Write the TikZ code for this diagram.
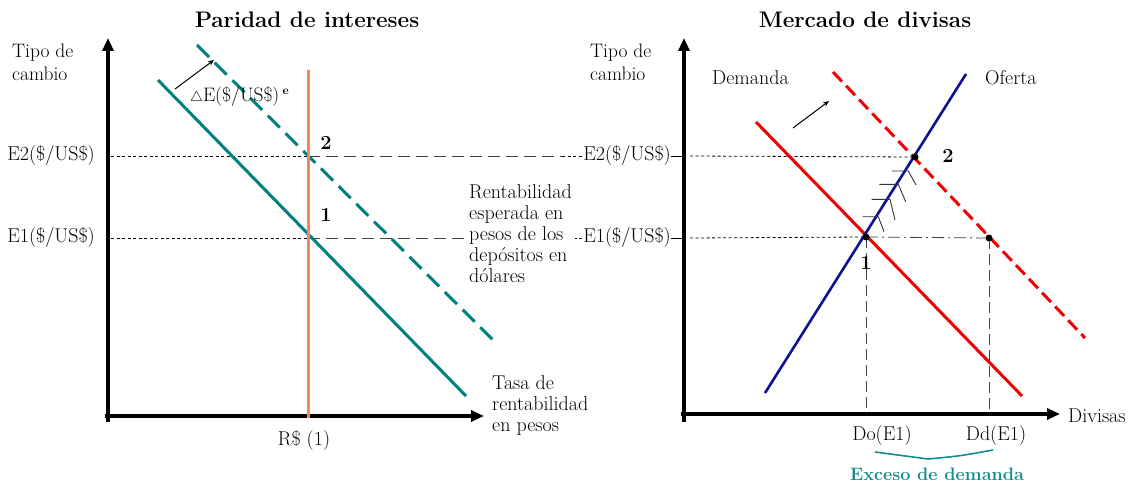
\documentclass[tikz,border=0pt]{standalone}
\usepackage{fontspec}
\usetikzlibrary{arrows.meta}
\definecolor{tealline}{RGB}{0,128,128}
\definecolor{orngline}{RGB}{244,135,82}
\definecolor{redline}{RGB}{240,0,0}
\definecolor{navyline}{RGB}{15,15,150}
\definecolor{tealtxt}{RGB}{20,140,140}
\begin{document}
\begin{tikzpicture}[x=1pt,y=-1pt,
  axisline/.style={line width=3.5pt,-{Triangle[length=13pt,width=11pt]}},
  lbl/.style={font=\fontsize{20}{21}\selectfont,inner sep=0pt,align=left},
  smlbl/.style={font=\fontsize{19.5}{22}\selectfont,inner sep=0pt,align=left},
  ttl/.style={font=\fontsize{22.5}{26}\selectfont\bfseries,inner sep=0pt},
  num/.style={font=\fontsize{20}{22}\selectfont\bfseries,inner sep=0pt},
  finedash/.style={line width=0.8pt,dash pattern=on 3pt off 2.5pt},
  longdash/.style={line width=0.8pt,black!75,dash pattern=on 12pt off 6pt},
  vdash/.style={line width=0.8pt,black!75,dash pattern=on 11pt off 5pt},
  dashdot/.style={line width=0.8pt,black!75,dash pattern=on 12pt off 4pt on 2pt off 4pt},
  shiftarrow/.style={line width=1pt,-{Stealth[length=6pt,width=5pt]}},
  hatch/.style={line width=0.9pt,black!80},
  dot/.style={circle,fill=black,inner sep=0pt,minimum size=7pt}
]
\useasboundingbox (0,0) rectangle (1130,484);

% ---------------- Left panel ----------------
\node[ttl] (t1) at (307,20) {Paridad de intereses};
\coordinate (ly) at (108,38);
\coordinate (lx) at (484,416);
\draw[axisline] (108,422) -- (ly);
\draw[axisline] (105,416) -- (lx);

\node[smlbl,anchor=west] (tc1a) at (12,53) {Tipo de};
\node[smlbl,anchor=west] (tc1b) at (12,74) {cambio};
\node[lbl,anchor=east] (e2l) at (95,156) {E2(\$/US\$)};
\node[lbl,anchor=east] (e1l) at (95,238) {E1(\$/US\$)};

% reference lines
\coordinate (p2) at (308,156);
\coordinate (p1) at (308,238);
\draw[finedash] (111,156) -- (p2);
\draw[longdash] (p2) -- (562,156);
\draw[finedash] (562,156) -- (584,156);
\draw[finedash] (111,238) -- (p1);
\draw[longdash] (p1) -- (468,238);
\draw[finedash] (568,238) -- (584,238);

% curves
\coordinate (sA) at (158,80);
\coordinate (sB) at (466,396);
\coordinate (dA) at (197,45);
\coordinate (dB) at (493,340);
\draw[tealline,line width=3pt] (sA) -- (sB);
\draw[tealline,line width=3pt,dash pattern=on 17pt off 8pt] (dA) -- (dB);
\draw[orngline,line width=3pt] (308,70) -- (308,418);

\coordinate (a1s) at (175,89);
\coordinate (a1e) at (214,60);
\draw[shiftarrow] (a1s) -- (a1e);
\node[inner sep=0pt,anchor=west,font=\fontsize{19.5}{21}\selectfont] (de) at (190,97) {$\scriptstyle\triangle$E(\$/US\$)\,\raisebox{7pt}{\fontsize{12}{12}\selectfont\bfseries e}};

\node[num] (n2l) at (326,143) {2};
\node[num] (n1l) at (326,215) {1};

\node[lbl,anchor=west,fill=white,inner xsep=3pt,inner ysep=0pt] (rent) at (466,234) {Rentabilidad\\esperada en\\pesos de los\\depósitos en\\dólares};
\node[lbl,anchor=west] (tasa) at (492,406) {Tasa de\\rentabilidad\\en pesos};
\node[lbl] (rs) at (304,441) {R\$ (1)};

% ---------------- Right panel ----------------
\node[ttl] (t2) at (865,20) {Mercado de divisas};
\coordinate (ry) at (684,38);
\coordinate (rx) at (1060,414);
\draw[axisline] (684,422) -- (ry);
\draw[axisline] (681,414) -- (rx);

\node[smlbl,anchor=west] (tc2a) at (590,53) {Tipo de};
\node[smlbl,anchor=west] (tc2b) at (590,74) {cambio};
\node[lbl,anchor=east] (e2r) at (671,156) {E2(\$/US\$)};
\node[lbl,anchor=east] (e1r) at (671,238) {E1(\$/US\$)};
\draw[line width=0.9pt] (e2r.east) -- (684,156);
\draw[line width=0.9pt] (e1r.east) -- (684,238);

\node[lbl,anchor=west] (dem) at (712,78) {Demanda};
\node[lbl,anchor=west] (ofe) at (985,78) {Oferta};

\coordinate (q1) at (866,237);
\coordinate (q2) at (915,157);
\coordinate (q3) at (989,238);
\draw[finedash] (690,156) -- (q2);
\draw[finedash] (690,238) -- (q1);
\draw[dashdot] (q1) -- (q3);
\draw[vdash] (q1) -- (866,414);
\draw[vdash] (q3) -- (989,414);

\draw[redline,line width=3pt] (756,122) -- (1022,396);
\draw[redline,line width=3pt,dash pattern=on 13pt off 6pt] (833,72) -- (1085,338);
\draw[navyline,line width=2.6pt] (765,393) -- (966,74);

% hatching
\draw[hatch] (862.7,216.7) -- (878.3,216.7) -- (884,231.7);
\draw[hatch] (871.7,199.3) -- (890,199.3) -- (895,220);
\draw[hatch] (879.3,184.3) -- (898.3,184.3) -- (905.7,201.7);
\draw[hatch] (891.7,171) -- (908.3,171) -- (916,185);

\node[dot] (d1) at (q1) {};
\node[dot] (d2) at (q2) {};
\node[dot] (d3) at (q3) {};

\coordinate (a2s) at (793,128);
\coordinate (a2e) at (829,101);
\draw[shiftarrow] (a2s) -- (a2e);

\node[num] (n2r) at (948,156) {2};
\node[num] (n1r) at (866,263) {1};

\node[lbl] (do) at (882,436) {Do(E1)};
\node[lbl] (dd) at (996,436) {Dd(E1)};
\node[lbl,anchor=west] (div) at (1068,416) {Divisas};

\draw[tealtxt,line width=1.6pt] (875,452) .. controls (902,456) .. (928,459) .. controls (960,456) .. (993,450);
\node[inner sep=0pt,font=\fontsize{18}{20}\selectfont\bfseries,text=tealtxt] (exc) at (937,474) {Exceso de demanda};
\end{tikzpicture}
\end{document}
